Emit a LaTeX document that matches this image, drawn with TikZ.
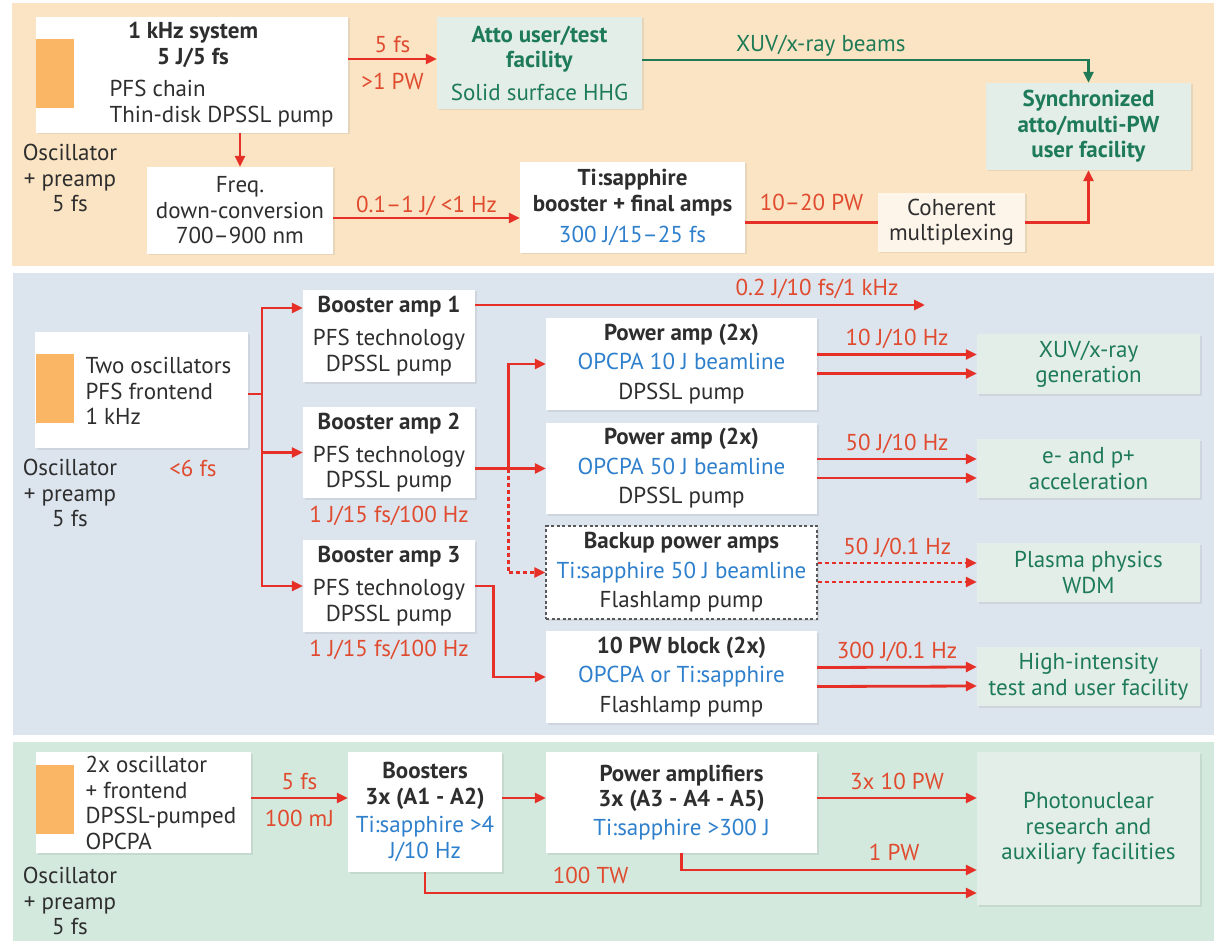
\documentclass[tikz,border=0pt]{standalone}
\usepackage{fontspec}
\setmainfont{PT Sans}
\usetikzlibrary{arrows.meta,positioning,calc,shadows}

\definecolor{toppanel}{HTML}{FAE4C4}
\definecolor{midpanel}{HTML}{DCE4ED}
\definecolor{botpanel}{HTML}{D3E9DD}
\definecolor{facfill}{HTML}{E4EEE9}
\definecolor{cohfill}{HTML}{FDF4EA}
\definecolor{beamred}{HTML}{E63027}
\definecolor{labred}{HTML}{E04B2F}
\definecolor{facgreen}{HTML}{1E7B57}
\definecolor{xraygreen}{HTML}{1F7A55}
\definecolor{beamblue}{HTML}{2F80CC}
\definecolor{oscorange}{HTML}{FBB665}
\definecolor{txtgrey}{HTML}{2E2E2E}

\begin{document}
\begin{tikzpicture}[x=1pt,y=-1pt,
    font=\fontsize{23pt}{25.5pt}\selectfont,
    every node/.style={text=txtgrey},
    box/.style={fill=white,inner sep=0pt,align=center,
      drop shadow={shadow xshift=1.5pt,shadow yshift=-1.5pt,opacity=0.15}},
    facility/.style={box,fill=facfill,text=facgreen},
    backup box/.style={box,draw=txtgrey!80,line width=1.3pt,dash pattern=on 3pt off 2.5pt},
    osc/.style={fill=oscorange,inner sep=0pt,minimum width=38pt},
    lab/.style={text=labred,inner sep=1pt},
    beam/.style={draw=beamred,line width=2.8pt,-{Triangle[length=11pt,width=10pt]}},
    beamline/.style={draw=beamred,line width=2.8pt},
    xray/.style={draw=xraygreen,line width=2.8pt,-{Triangle[length=11pt,width=10pt]}},
    spare/.style={beam,dash pattern=on 4pt off 3pt}
  ]
  \useasboundingbox (0,0) rectangle (1218,941);

  % panels
  \fill[toppanel] (12,3) rectangle (1214,266);
  \fill[midpanel] (13,273) rectangle (1214,735);
  \fill[botpanel] (13,742) rectangle (1214,941);

  % 1 kHz system
  \node[box,minimum width=312pt,minimum height=116pt] (sys) at (192,75) {};
  \node[osc,minimum height=69pt] (sysosc) at (55,73.5) {};
  \node[align=center] (systitle) at (193,45) {\textbf{1 kHz system}\\\textbf{5 J/5 fs}};
  \node[align=left,anchor=west] (sysinfo) at (106,103.5) {PFS chain\\Thin-disk DPSSL pump};
  \node[align=center] (osc1) at (70,178) {Oscillator\\+ preamp\\5 fs};
  \node[facility,minimum width=205pt,minimum height=92pt] (atto) at (539.5,63)
    {\textbf{Atto user/test}\\\textbf{facility}\\[7pt]Solid surface HHG};
  \node[facility,minimum width=205pt,minimum height=87pt] (sync) at (1088.5,126.5)
    {\textbf{Synchronized}\\\textbf{atto/multi-PW}\\\textbf{user facility}};
  \node[box,minimum width=186pt,minimum height=87pt] (freq) at (240,210.5)
    {Freq.\\down-conversion\\700–900 nm};
  \node[box,minimum width=225pt,minimum height=91pt] (ti) at (632.5,207.5)
    {\textbf{Ti:sapphire}\\\textbf{booster + final amps}\\[5.5pt]\textcolor{beamblue}{300 J/15–25 fs}};
  \node[box,fill=cohfill,minimum width=147pt,minimum height=59pt] (coh) at (951.5,222.5)
    {Coherent\\multiplexing};

  \draw[beam] ($(atto.west -| sys.east)+(0,-4)$) -- ($(atto.west)+(0,-4)$)
    node[lab,midway,above=3.5pt] {5 fs} node[lab,midway,below=12pt] {>1 PW};
  \draw[xray] ($(atto.east)+(0,-3)$) -| (sync.north)
    node[pos=0.2,above=1.5pt,inner sep=1pt,text=xraygreen] {XUV/x-ray beams};
  \draw[beam] (sys.south -| freq.north) -- (freq.north);
  \coordinate (fq) at ($(freq.east)+(0,7.5)$);
  \draw[beam] (fq) -- (fq -| ti.west) node[lab,midway,above=0pt] {0.1–1 J/ <1 Hz};
  \draw[beamline] (ti.east |- coh.west) -- (coh.west) node[lab,midway,above=9pt] {10–20 PW};
  \draw[beam] (coh.east) -| (sync.south);

  % PFS frontend and boosters
  \node[box,minimum width=213pt,minimum height=116pt] (front) at (141.5,390) {};
  \node[osc,minimum height=69pt] (frontosc) at (55,388.5) {};
  \node[align=left,anchor=west] (frontinfo) at (82,391) {Two oscillators\\PFS frontend\\1 kHz};
  \node[align=center] (osc2) at (70,493) {Oscillator\\+ preamp\\5 fs};
  \node[lab] (fwhm) at (193,468) {<6 fs};

  \node[box,minimum width=172pt,minimum height=92pt] (b1) at (389,336)
    {\textbf{Booster amp 1}\\[7.5pt]PFS technology\\DPSSL pump};
  \node[box,minimum width=172pt,minimum height=91pt] (b2) at (389,452.5)
    {\textbf{Booster amp 2}\\[7.5pt]PFS technology\\DPSSL pump};
  \node[box,minimum width=172pt,minimum height=92pt] (b3) at (389,586)
    {\textbf{Booster amp 3}\\[7.5pt]PFS technology\\DPSSL pump};
  \node[lab,below=7pt of b2] (b2rate) {1 J/15 fs/100 Hz};
  \node[lab,below=7pt of b3] (b3rate) {1 J/15 fs/100 Hz};

  \node[box,minimum width=271pt,minimum height=92pt] (pa1) at (681.5,364)
    {\textbf{Power amp (2x)}\\[4pt]\textcolor{beamblue}{OPCPA 10 J beamline}\\[4pt]DPSSL pump};
  \node[box,minimum width=271pt,minimum height=91pt] (pa2) at (681.5,468.5)
    {\textbf{Power amp (2x)}\\[4pt]\textcolor{beamblue}{OPCPA 50 J beamline}\\[4pt]DPSSL pump};
  \node[backup box,minimum width=271pt,minimum height=93pt] (backup) at (681.5,572.5)
    {\textbf{Backup power amps}\\[4pt]\textcolor{beamblue}{Ti:sapphire 50 J beamline}\\[4pt]Flashlamp pump};
  \node[box,minimum width=271pt,minimum height=92pt] (pw) at (681.5,677)
    {\textbf{10 PW block (2x)}\\[4pt]\textcolor{beamblue}{OPCPA or Ti:sapphire}\\[4pt]Flashlamp pump};

  \node[facility,minimum width=223pt,minimum height=60pt] (xuv) at (1088.5,364) {XUV/x-ray\\generation};
  \node[facility,minimum width=223pt,minimum height=59pt] (accel) at (1088.5,468.5) {e- and p+\\acceleration};
  \node[facility,minimum width=223pt,minimum height=59pt] (plasma) at (1088.5,572.5) {Plasma physics\\WDM};
  \node[facility,minimum width=223pt,minimum height=59pt] (hifac) at (1088.5,676.5) {High-intensity\\test and user facility};

  \coordinate (fork) at (262,394);
  \draw[beamline] (front.east |- fork) -- (fork);
  \draw[beam] (fork) |- ($(b1.west)+(0,-28)$);
  \draw[beam] (fork) |- (b2.west);
  \draw[beam] (fork) |- (b3.west);

  \coordinate (b1out) at (925,305);
  \draw[beam] (b1.east |- b1out) -- (b1out) node[lab,pos=0.76,above=4pt] {0.2 J/10 fs/1 kHz};

  \draw[beam] (b2.east |- pa2.west) -- (pa2.west);
  \path (b2.east |- pa2.west) ++(33,0) coordinate (split);
  \draw[beam] (split) |- (pa1.west);
  \draw[spare] (split) |- (backup.west);
  \draw[beam] (b3.east) -- ++(18,0) |- (pw.west);

  \foreach \amp/\fac/\rate/\kind in {pa1/xuv/{10 J/10 Hz}/beam, pa2/accel/{50 J/10 Hz}/beam,
      backup/plasma/{50 J/0.1 Hz}/spare, pw/hifac/{300 J/0.1 Hz}/beam} {
    \draw[\kind] ($(\amp.east)+(0,-9.5)$) -- ($(\fac.west)+(0,-9.5)$)
      node[lab,midway,above=3pt] {\rate};
    \draw[\kind] ($(\amp.east)+(0,9.5)$) -- ($(\fac.west)+(0,9.5)$);
  }

  % photonuclear line
  \node[box,minimum width=215pt,minimum height=101pt] (front3) at (143.5,802.5) {};
  \node[osc,minimum height=69pt] (front3osc) at (55,799.5) {};
  \node[align=left,anchor=west] (front3info) at (82,803) {2x oscillator\\+ frontend\\DPSSL-pumped\\OPCPA};
  \node[align=center] (osc3) at (70,901) {Oscillator\\+ preamp\\5 fs};
  \node[box,minimum width=154pt,minimum height=120pt] (boosters) at (425,812)
    {\textbf{Boosters}\\\textbf{3x (A1 - A2)}\\[3pt]\textcolor{beamblue}{Ti:sapphire >4}\\\textcolor{beamblue}{J/10 Hz}};
  \node[box,minimum width=271pt,minimum height=101pt] (powamps) at (681.5,802.5)
    {\textbf{Power amplifiers}\\\textbf{3x (A3 - A4 - A5)}\\[3pt]\textcolor{beamblue}{Ti:sapphire >300 J}};
  \node[facility,minimum width=223pt,minimum height=153pt] (photo) at (1088.5,828.5)
    {Photonuclear\\research and\\auxiliary facilities};

  \coordinate (f3) at ($(front3.east)+(0,-4.5)$);
  \draw[beam] (f3) -- (f3 -| boosters.west)
    node[lab,midway,above=6pt] {5 fs} node[lab,midway,below=10pt] {100 mJ};
  \draw[beam] (boosters.east |- f3) -- (powamps.west |- f3);
  \draw[beam] (powamps.east |- f3) -- (photo.west |- f3) node[lab,midway,above=6pt] {3x 10 PW};
  \draw[beam] (powamps.south) |- ($(photo.west)+(0,41.5)$) node[lab,pos=0.86,above=7pt] {1 PW};
  \draw[beam] (boosters.south) |- ($(photo.west)+(0,64.5)$) node[lab,pos=0.65,above=7pt] {100 TW};
\end{tikzpicture}
\end{document}
